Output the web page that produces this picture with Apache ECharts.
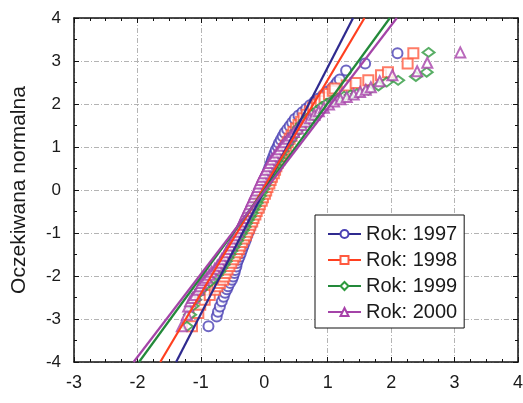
<!DOCTYPE html>
<html>
<head>
<meta charset="utf-8">
<script src="https://cdn.jsdelivr.net/npm/echarts@6/dist/echarts.min.js"></script>
<style>html,body{margin:0;padding:0;background:#fff;}#c{width:523px;height:403px;}</style>
</head>
<body>
<div id="c"></div>
<script>
const seriesNames = ['Rok: 1997', 'Rok: 1998', 'Rok: 1999', 'Rok: 2000'];
const xTicks = [-3, -2, -1, 0, 1, 2, 3, 4];
const yTicks = [-4, -3, -2, -1, 0, 1, 2, 3, 4];

// fitted normal lines [x, y]
const line1997 = [[-1.39, -4], [1.40, 4]];
const line1998 = [[-1.64, -4], [1.58, 4]];
const line1999 = [[-1.975, -4], [1.98, 4]];
const line2000 = [[-2.06, -4], [2.09, 4]];

// observed points [x, y]
const pts1997 = [[-0.88,-3.17],[-0.75,-2.94],[-0.73,-2.83],[-0.70,-2.71],[-0.67,-2.59],[-0.64,-2.48],[-0.62,-2.39],[-0.59,-2.31],[-0.57,-2.24],[-0.54,-2.16],[-0.51,-2.09],[-0.49,-2.01],[-0.47,-1.93],[-0.46,-1.86],[-0.44,-1.78],[-0.43,-1.70],[-0.41,-1.62],[-0.39,-1.55],[-0.37,-1.47],[-0.35,-1.39],[-0.33,-1.31],[-0.31,-1.23],[-0.29,-1.15],[-0.27,-1.07],[-0.25,-0.99],[-0.23,-0.91],[-0.21,-0.83],[-0.19,-0.75],[-0.17,-0.67],[-0.15,-0.59],[-0.13,-0.51],[-0.11,-0.43],[-0.09,-0.35],[-0.07,-0.27],[-0.05,-0.19],[-0.03,-0.11],[-0.02,-0.03],[0.00,0.05],[0.01,0.13],[0.03,0.21],[0.04,0.29],[0.05,0.37],[0.06,0.45],[0.08,0.53],[0.10,0.61],[0.12,0.69],[0.14,0.77],[0.16,0.85],[0.18,0.93],[0.21,1.01],[0.23,1.09],[0.26,1.17],[0.29,1.25],[0.32,1.33],[0.36,1.41],[0.40,1.49],[0.44,1.57],[0.48,1.65],[0.54,1.73],[0.60,1.81],[0.66,1.89],[0.72,1.97],[0.79,2.05],[0.86,2.13],[0.93,2.21],[1.00,2.29],[1.07,2.37],[1.12,2.45],[1.15,2.51],[1.19,2.57],[1.29,2.78],[1.59,2.94],[2.10,3.18]];
const pts1998 = [[-1.14,-3.17],[-1.04,-2.86],[-1.01,-2.67],[-0.94,-2.55],[-0.86,-2.44],[-0.78,-2.32],[-0.74,-2.24],[-0.70,-2.16],[-0.65,-2.09],[-0.63,-2.01],[-0.61,-1.93],[-0.58,-1.85],[-0.55,-1.77],[-0.52,-1.69],[-0.49,-1.61],[-0.46,-1.53],[-0.43,-1.45],[-0.40,-1.37],[-0.38,-1.29],[-0.35,-1.21],[-0.32,-1.13],[-0.29,-1.05],[-0.27,-0.97],[-0.24,-0.89],[-0.22,-0.81],[-0.19,-0.73],[-0.17,-0.65],[-0.14,-0.57],[-0.12,-0.49],[-0.09,-0.41],[-0.07,-0.33],[-0.04,-0.25],[-0.02,-0.17],[0.01,-0.09],[0.03,-0.01],[0.05,0.07],[0.08,0.15],[0.10,0.23],[0.12,0.31],[0.15,0.39],[0.17,0.47],[0.19,0.55],[0.21,0.63],[0.24,0.71],[0.26,0.79],[0.28,0.87],[0.31,0.95],[0.34,1.03],[0.37,1.11],[0.40,1.19],[0.43,1.27],[0.46,1.35],[0.50,1.43],[0.54,1.51],[0.58,1.59],[0.62,1.67],[0.67,1.75],[0.72,1.83],[0.77,1.91],[0.83,1.99],[0.89,2.07],[0.95,2.15],[1.02,2.23],[1.08,2.31],[1.11,2.36],[1.30,2.43],[1.44,2.49],[1.64,2.55],[1.84,2.67],[1.95,2.74],[2.26,2.94],[2.35,3.18]];
const pts1999 = [[-1.22,-3.17],[-1.17,-2.90],[-1.13,-2.70],[-1.09,-2.55],[-1.05,-2.42],[-1.00,-2.32],[-0.93,-2.22],[-0.86,-2.14],[-0.80,-2.06],[-0.75,-1.98],[-0.71,-1.90],[-0.68,-1.82],[-0.64,-1.74],[-0.61,-1.66],[-0.58,-1.58],[-0.55,-1.50],[-0.52,-1.42],[-0.49,-1.34],[-0.46,-1.26],[-0.43,-1.18],[-0.40,-1.10],[-0.37,-1.02],[-0.34,-0.94],[-0.31,-0.86],[-0.29,-0.78],[-0.26,-0.70],[-0.23,-0.62],[-0.20,-0.54],[-0.18,-0.46],[-0.15,-0.38],[-0.12,-0.30],[-0.10,-0.22],[-0.07,-0.14],[-0.05,-0.06],[-0.02,0.02],[0.00,0.10],[0.03,0.18],[0.05,0.26],[0.08,0.34],[0.10,0.42],[0.13,0.50],[0.16,0.58],[0.19,0.66],[0.22,0.74],[0.25,0.82],[0.28,0.90],[0.31,0.98],[0.35,1.06],[0.39,1.14],[0.43,1.22],[0.47,1.30],[0.51,1.38],[0.55,1.46],[0.60,1.54],[0.65,1.62],[0.71,1.70],[0.77,1.78],[0.84,1.86],[0.91,1.94],[0.99,2.02],[1.07,2.08],[1.16,2.13],[1.26,2.18],[1.36,2.21],[1.46,2.24],[1.64,2.32],[1.80,2.42],[1.93,2.51],[2.11,2.55],[2.39,2.64],[2.56,2.74],[2.59,3.20]];
const pts2000 = [[-1.30,-3.17],[-1.22,-2.90],[-1.20,-2.71],[-1.17,-2.59],[-1.13,-2.51],[-1.09,-2.44],[-1.04,-2.32],[-1.01,-2.24],[-0.99,-2.16],[-0.95,-2.10],[-0.91,-2.04],[-0.87,-1.97],[-0.83,-1.90],[-0.78,-1.83],[-0.74,-1.76],[-0.70,-1.69],[-0.67,-1.61],[-0.63,-1.53],[-0.60,-1.45],[-0.57,-1.37],[-0.54,-1.29],[-0.51,-1.21],[-0.48,-1.13],[-0.45,-1.05],[-0.42,-0.97],[-0.40,-0.89],[-0.37,-0.81],[-0.35,-0.73],[-0.32,-0.65],[-0.30,-0.57],[-0.27,-0.49],[-0.25,-0.41],[-0.22,-0.33],[-0.20,-0.25],[-0.17,-0.17],[-0.15,-0.09],[-0.12,-0.01],[-0.10,0.07],[-0.08,0.15],[-0.05,0.23],[-0.03,0.31],[0.00,0.39],[0.03,0.47],[0.06,0.55],[0.09,0.63],[0.12,0.71],[0.16,0.79],[0.20,0.87],[0.24,0.95],[0.28,1.03],[0.32,1.11],[0.37,1.19],[0.42,1.27],[0.47,1.35],[0.53,1.43],[0.59,1.51],[0.65,1.59],[0.72,1.67],[0.79,1.75],[0.86,1.83],[0.94,1.91],[1.02,1.99],[1.10,2.06],[1.20,2.11],[1.30,2.16],[1.41,2.22],[1.51,2.28],[1.60,2.33],[1.68,2.39],[1.82,2.53],[2.02,2.67],[2.41,2.76],[2.57,2.96],[3.09,3.20]];

const lines = [line1997, line1998, line1999, line2000];
const points = [pts1997, pts1998, pts1999, pts2000];
const lineColors = ['#2f2a8f', '#ff3f1f', '#23893a', '#a444a8'];
const markColors = ['#4a40b4', '#ff5a40', '#2e9a3e', '#a842aa'];
const symbols = ['emptyCircle', 'emptyRect', 'emptyDiamond', 'emptyTriangle'];
const symSizes = [10, 10, [12, 9], 10];

const FONT = 'Liberation Sans, Arial, sans-serif';
const grid = {left: 74, right: 5, top: 18, bottom: 41, containLabel: false, outerBoundsMode: 'none'};
const splitLine = {show: true, lineStyle: {color: '#b4b4b4', width: 1, type: [5, 2, 1, 2]}};
const axisLine = {show: true, onZero: false, lineStyle: {color: '#111', width: 1.5}};
const tick = {show: true, inside: true, length: 5, lineStyle: {color: '#111', width: 1}};

function xAx(pos, labels) {
  return {
    type: 'value', min: xTicks[0], max: xTicks[xTicks.length - 1], interval: 1, position: pos,
    axisLine: axisLine, axisTick: tick,
    minorTick: {show: true, splitNumber: 4, length: 3, lineStyle: {color: '#111', width: 1}},
    splitLine: labels ? splitLine : {show: false},
    axisLabel: {show: labels, fontSize: 18, color: '#1a1a1a', fontFamily: FONT, margin: 12}
  };
}
function yAx(pos, labels) {
  const a = {
    type: 'value', min: yTicks[0], max: yTicks[yTicks.length - 1], interval: 1, position: pos,
    axisLine: axisLine, axisTick: tick,
    minorTick: {show: true, splitNumber: 2, length: 3, lineStyle: {color: '#111', width: 1}},
    splitLine: labels ? splitLine : {show: false},
    axisLabel: {show: labels, fontSize: 17, color: '#1a1a1a', fontFamily: FONT, margin: 13}
  };
  if (labels) {
    a.name = 'Oczekiwana normalna';
    a.nameLocation = 'middle';
    a.nameGap = 44;
    a.nameTextStyle = {fontSize: 21, color: '#1a1a1a', fontFamily: FONT};
  }
  return a;
}

const series = [];
for (let i = 0; i < 4; i++) {
  series.push({
    type: 'scatter', name: 'pts' + i, data: points[i], symbol: symbols[i], symbolSize: symSizes[i],
    itemStyle: {color: markColors[i], borderColor: markColors[i], borderWidth: 1}, z: 2 + i * 0.01,
    silent: true
  });
}
for (let i = 0; i < 4; i++) {
  series.push({
    type: 'line', name: seriesNames[i], data: lines[i], symbol: symbols[i], symbolSize: 10,
    showSymbol: false, lineStyle: {color: lineColors[i], width: 2.2},
    itemStyle: {color: markColors[i], borderColor: markColors[i]}, z: 3, clip: true
  });
}

const chart = echarts.init(document.getElementById('c'), null, {renderer: 'canvas'});
chart.setOption({
  animation: false,
  backgroundColor: '#fff',
  grid: grid,
  xAxis: [xAx('bottom', true), xAx('top', false)],
  yAxis: [yAx('left', true), yAx('right', false)],
  legend: {
    data: seriesNames, orient: 'vertical', left: 315, top: 215,
    itemWidth: 33, itemHeight: 10, itemGap: 6,
    padding: [9, 7, 6, 12],
    borderColor: '#111', borderWidth: 1, backgroundColor: '#fff',
    textStyle: {fontSize: 20, color: '#1a1a1a', fontFamily: FONT}
  },
  series: series
});
</script>
</body>
</html>
